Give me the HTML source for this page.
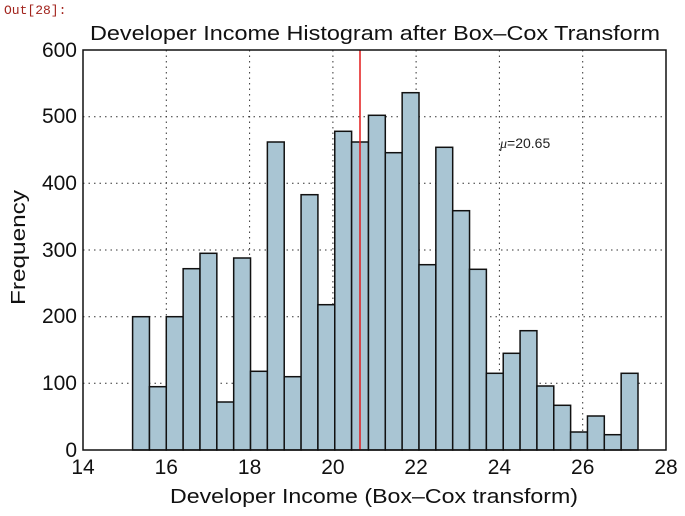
<!DOCTYPE html>
<html><head><style>body{margin:0;background:#fff}svg{display:block}</style></head><body>
<svg width="685" height="516" xmlns="http://www.w3.org/2000/svg" font-family="Liberation Sans, DejaVu Sans, sans-serif">
<text x="4" y="14" font-family="Liberation Mono, monospace" font-size="13" fill="#a2241d">Out[28]:</text>
<text x="90" y="40" font-size="20" textLength="570" lengthAdjust="spacingAndGlyphs" fill="#111">Developer Income Histogram after Box–Cox Transform</text>
<g stroke="#333" stroke-width="1" stroke-dasharray="1.5,4">
<line x1="166.3" y1="50" x2="166.3" y2="450"/><line x1="249.6" y1="50" x2="249.6" y2="450"/><line x1="332.9" y1="50" x2="332.9" y2="450"/><line x1="416.1" y1="50" x2="416.1" y2="450"/><line x1="499.4" y1="50" x2="499.4" y2="450"/><line x1="582.7" y1="50" x2="582.7" y2="450"/>
<line x1="83" y1="383.3" x2="666" y2="383.3"/><line x1="83" y1="316.7" x2="666" y2="316.7"/><line x1="83" y1="250" x2="666" y2="250"/><line x1="83" y1="183.3" x2="666" y2="183.3"/><line x1="83" y1="116.7" x2="666" y2="116.7"/>
</g>
<g fill="#a9c5d3" stroke="#111" stroke-width="1.5">
<rect x="132.6" y="316.7" width="16.85" height="133.3"/>
<rect x="149.45" y="386.7" width="16.85" height="63.3"/>
<rect x="166.29" y="316.7" width="16.85" height="133.3"/>
<rect x="183.14" y="268.7" width="16.85" height="181.3"/>
<rect x="199.99" y="253.3" width="16.85" height="196.7"/>
<rect x="216.83" y="402" width="16.85" height="48"/>
<rect x="233.68" y="258" width="16.85" height="192"/>
<rect x="250.53" y="371.3" width="16.85" height="78.7"/>
<rect x="267.37" y="142" width="16.85" height="308"/>
<rect x="284.22" y="376.7" width="16.85" height="73.3"/>
<rect x="301.07" y="194.7" width="16.85" height="255.3"/>
<rect x="317.91" y="304.7" width="16.85" height="145.3"/>
<rect x="334.76" y="131.3" width="16.85" height="318.7"/>
<rect x="351.61" y="142" width="16.85" height="308"/>
<rect x="368.45" y="115.3" width="16.85" height="334.7"/>
<rect x="385.3" y="152.7" width="16.85" height="297.3"/>
<rect x="402.15" y="92.7" width="16.85" height="357.3"/>
<rect x="418.99" y="264.7" width="16.85" height="185.3"/>
<rect x="435.84" y="147.3" width="16.85" height="302.7"/>
<rect x="452.69" y="210.7" width="16.85" height="239.3"/>
<rect x="469.53" y="269.3" width="16.85" height="180.7"/>
<rect x="486.38" y="373.3" width="16.85" height="76.7"/>
<rect x="503.23" y="353.3" width="16.85" height="96.7"/>
<rect x="520.07" y="330.7" width="16.85" height="119.3"/>
<rect x="536.92" y="386" width="16.85" height="64"/>
<rect x="553.77" y="405.3" width="16.85" height="44.7"/>
<rect x="570.61" y="432" width="16.85" height="18"/>
<rect x="587.46" y="416" width="16.85" height="34"/>
<rect x="604.31" y="434.7" width="16.85" height="15.3"/>
<rect x="621.15" y="373.3" width="16.85" height="76.7"/>
</g>
<line x1="360" y1="50" x2="360" y2="450" stroke="#e41a1c" stroke-width="1.5"/>
<text x="500" y="148" font-size="14" fill="#222"><tspan font-style="italic" font-family="Liberation Serif, serif">μ</tspan>=20.65</text>
<rect x="83" y="50" width="583" height="400" fill="none" stroke="#111" stroke-width="1.5"/>
<g font-size="21" fill="#111" text-anchor="middle">
<text x="83" y="474">14</text><text x="166.3" y="474">16</text><text x="249.6" y="474">18</text><text x="332.9" y="474">20</text><text x="416.1" y="474">22</text><text x="499.4" y="474">24</text><text x="582.7" y="474">26</text><text x="666" y="474">28</text>
</g>
<g font-size="21" fill="#111" text-anchor="end">
<text x="77" y="457">0</text><text x="77" y="390">100</text><text x="77" y="323">200</text><text x="77" y="257">300</text><text x="77" y="190">400</text><text x="77" y="123">500</text><text x="77" y="57">600</text>
</g>
<text x="170" y="503" font-size="20" textLength="408" lengthAdjust="spacingAndGlyphs" fill="#111">Developer Income (Box–Cox transform)</text>
<text transform="translate(25,305) rotate(-90)" font-size="20" textLength="115" lengthAdjust="spacingAndGlyphs" fill="#111">Frequency</text>
</svg>
</body></html>
